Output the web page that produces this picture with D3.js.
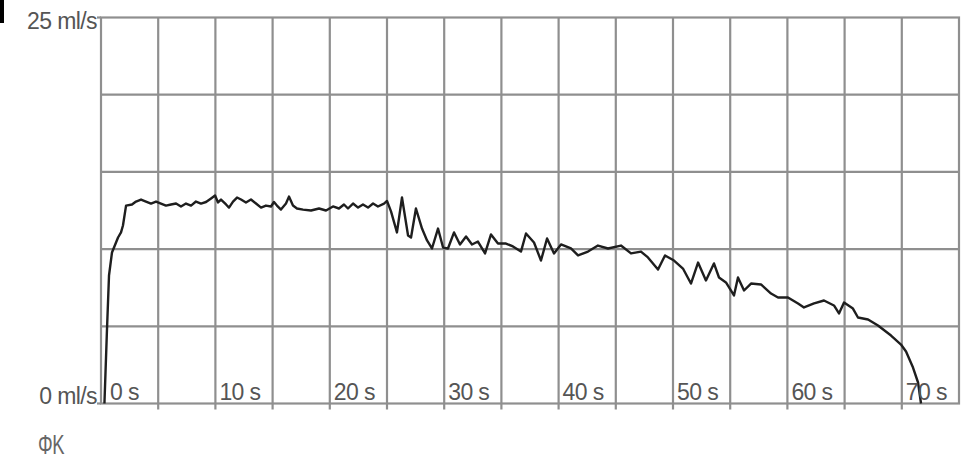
<!DOCTYPE html>
<html>
<head>
<meta charset="utf-8">
<script src="https://cdn.jsdelivr.net/npm/d3@7"></script>
<style>
  body { margin: 0; background: #fff; }
  svg { display: block; }
  .lbl { font-family: "Liberation Sans", Arial, sans-serif; font-size: 23px; fill: #555; letter-spacing: -0.6px; }
</style>
</head>
<body>
<svg width="971" height="468"></svg>
<script>
// flow curve: time (s) and flow (ml/s)
var times = [0.3, 0.52, 0.7, 0.96, 1.49, 1.75, 1.92, 2.19, 2.71, 3.06, 3.5, 3.93, 4.37, 4.81, 5.24, 5.68,
  6.12, 6.56, 6.99, 7.43, 7.87, 8.3, 8.74, 9.18, 9.62, 9.97, 10.23, 10.49, 10.93, 11.19, 11.54, 11.89,
  12.24, 12.67, 13.11, 13.55, 13.99, 14.42, 14.86, 15.12, 15.38, 15.73, 16.17, 16.43, 16.78, 17.13,
  17.66, 18.36, 19.06, 19.67, 20.28, 20.8, 21.24, 21.59, 22.03, 22.47, 22.9, 23.34, 23.78, 24.21,
  24.74, 25.0, 25.35, 25.87, 26.31, 26.84, 27.1, 27.53, 28.06, 28.5, 28.93, 29.46, 29.9, 30.33,
  30.86, 31.38, 31.91, 32.43, 32.95, 33.57, 34.09, 34.7, 35.4, 36.01, 36.71, 37.15, 37.85, 38.46,
  38.99, 39.6, 40.21, 41.08, 41.7, 42.57, 43.44, 44.32, 45.45, 46.33, 47.2, 47.81, 48.69, 49.3,
  50.09, 50.87, 51.57, 52.19, 52.88, 53.58, 54.02, 54.63, 55.33, 55.68, 56.21, 56.82, 57.69, 58.57,
  59.18, 60.05, 60.93, 61.45, 62.33, 63.2, 64.07, 64.51, 64.95, 65.73, 66.17, 67.05, 67.92, 69.06,
  69.93, 70.37, 70.98, 71.42, 71.68];
var flows = [0, 4.73, 8.29, 9.78, 10.75, 11.08, 11.53, 12.82, 12.89, 13.08, 13.21, 13.08, 12.95, 13.08, 12.95, 12.82,
  12.89, 12.95, 12.76, 12.95, 12.82, 13.08, 12.95, 13.05, 13.28, 13.47, 13.02, 13.21, 12.89, 12.69, 13.08, 13.34,
  13.21, 13.02, 13.21, 12.95, 12.69, 12.82, 12.76, 13.05, 12.82, 12.56, 12.95, 13.4, 12.82, 12.63,
  12.56, 12.5, 12.63, 12.5, 12.76, 12.63, 12.89, 12.63, 12.95, 12.69, 12.89, 12.69, 12.95, 12.76,
  12.95, 13.12, 12.44, 11.08, 13.34, 10.88, 10.75, 12.63, 11.33, 10.56, 10.04, 11.33, 10.1, 10.04,
  11.08, 10.3, 10.82, 10.3, 10.49, 9.72, 10.95, 10.36, 10.36, 10.17, 9.84, 11.01, 10.43, 9.26,
  10.69, 9.72, 10.3, 10.04, 9.59, 9.84, 10.23, 10.04, 10.23, 9.72, 9.84, 9.46, 8.68, 9.59,
  9.26, 8.74, 7.77, 9.13, 7.97, 9.07, 8.16, 7.84, 7.0, 8.16, 7.32, 7.77, 7.71, 7.12,
  6.87, 6.87, 6.48, 6.22, 6.48, 6.67, 6.35, 5.83, 6.54, 6.15, 5.57, 5.44, 5.05, 4.4,
  3.82, 3.37, 2.33, 1.36, 0];

var gridTimes = [5, 10, 15, 20, 25, 30, 35, 40, 45, 50, 55, 60, 65, 70];
var gridFlows = [5, 10, 15, 20];
var timeLabels = [0, 10, 20, 30, 40, 50, 60, 70];
var flowLabels = [0, 25];

var svg = d3.select("svg");

var x = d3.scaleLinear().domain([0, 75]).range([101, 959]);
var y = d3.scaleLinear().domain([0, 25]).range([403.5, 17.5]);

var gridColor = "#8f8f8f";

// black corner mark
svg.append("rect").attr("x", 0).attr("y", 0).attr("width", 4).attr("height", 23).attr("fill", "#000");

// grid
svg.append("g").selectAll("line")
  .data(gridTimes)
  .enter().append("line")
  .attr("x1", function(d) { return x(d); })
  .attr("x2", function(d) { return x(d); })
  .attr("y1", y(25))
  .attr("y2", y(0) + 6)
  .attr("stroke", gridColor)
  .attr("stroke-width", 2.2);

svg.append("g").selectAll("line")
  .data(gridFlows)
  .enter().append("line")
  .attr("x1", x(0))
  .attr("x2", x(75))
  .attr("y1", function(d) { return y(d); })
  .attr("y2", function(d) { return y(d); })
  .attr("stroke", gridColor)
  .attr("stroke-width", 2.2);

// frame
svg.append("rect")
  .attr("x", x(0)).attr("y", y(25))
  .attr("width", x(75) - x(0)).attr("height", y(0) - y(25))
  .attr("fill", "none")
  .attr("stroke", gridColor)
  .attr("stroke-width", 2.2);

// little ticks on the left
svg.append("g").selectAll("line")
  .data(flowLabels)
  .enter().append("line")
  .attr("x1", x(0) - 4).attr("x2", x(0))
  .attr("y1", function(d) { return y(d); })
  .attr("y2", function(d) { return y(d); })
  .attr("stroke", gridColor)
  .attr("stroke-width", 2.2);

// flow line
var line = d3.line()
  .x(function(d, i) { return x(times[i]); })
  .y(function(d) { return y(d); });

svg.append("path")
  .datum(flows)
  .attr("d", line)
  .attr("fill", "none")
  .attr("stroke", "#1e1e1e")
  .attr("stroke-width", 2.4)
  .attr("stroke-linejoin", "round");

// labels
svg.append("g").selectAll("text")
  .data(timeLabels)
  .enter().append("text")
  .attr("class", "lbl")
  .attr("x", function(d) { return x(d) + (d == 0 ? 9 : 4); })
  .attr("y", y(0) - 4)
  .text(function(d) { return d + " s"; });

svg.append("g").selectAll("text")
  .data(flowLabels)
  .enter().append("text")
  .attr("class", "lbl")
  .attr("text-anchor", "end")
  .attr("x", x(0) - 4)
  .attr("y", function(d) { return d == 0 ? y(d) : y(d) + 11; })
  .text(function(d) { return d + " ml/s"; });

svg.append("text")
  .attr("class", "lbl")
  .attr("transform", "translate(38,454) scale(0.8,1.2)")
  .style("fill", "#666")
  .text("ΦK");
</script>
</body>
</html>
